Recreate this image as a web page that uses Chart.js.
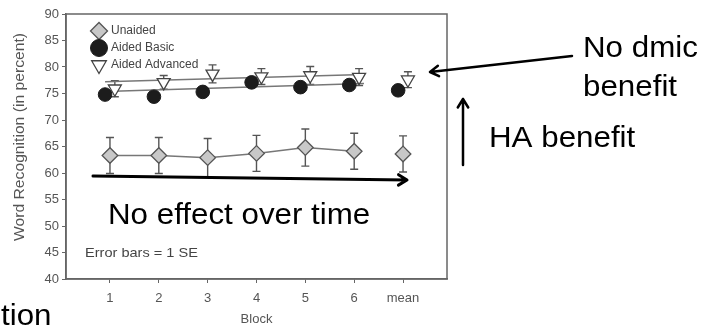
<!DOCTYPE html>
<html>
<head>
<meta charset="utf-8">
<script src="https://cdn.jsdelivr.net/npm/chart.js@4.4.0/dist/chart.umd.min.js"></script>
<style>
  html, body { margin: 0; padding: 0; background: #fff; }
  #wrap { position: relative; width: 704px; height: 327px; }
</style>
</head>
<body>
<div id="wrap"><canvas id="myChart" width="704" height="327"></canvas></div>
<script>
// block positions + labels
var blocks = [1, 2, 3, 4, 5, 6, 7];
var xLabels = ['1', '2', '3', '4', '5', '6', 'mean'];

// word recognition scores
var unaided = [63.3, 63.3, 62.9, 63.7, 64.8, 64.1, 63.6];
var unaidedSE = [3.4, 3.4, 3.6, 3.4, 3.5, 3.4, 3.4];
var aidedBasic = [74.8, 74.4, 75.3, 77.1, 76.2, 76.6, 75.6];
var aidedAdvanced = [75.9, 77.1, 78.7, 78.2, 78.4, 78.1, 77.6];
var aidedAdvancedSE = [1.5, 1.3, 1.7, 1.5, 1.7, 1.6, 1.5];

// straight trend lines through the aided blocks
var trendX = [0.9, 6.2];
var basicTrend = [75.4, 76.9];
var advancedTrend = [77.2, 78.6];

var FONT = "'Liberation Sans', Arial, sans-serif";
var SHIFT = 0.1; // small sideways nudge so aided markers don't sit on top of each other

function pts(xs, ys, dx) {
    return ys.map(function (v, i) { return { x: xs[i] + (dx || 0), y: v }; });
}

var errorBars = {
    id: 'errorBars',
    beforeDatasetsDraw: function (chart) {
        var ctx = chart.ctx;
        var yScale = chart.scales.y;
        chart.data.datasets.forEach(function (ds, di) {
            if (!ds.se) return;
            var meta = chart.getDatasetMeta(di);
            ctx.save();
            ctx.strokeStyle = '#555';
            ctx.lineWidth = 1.4;
            meta.data.forEach(function (p, i) {
                var v = ds.data[i].y;
                var top = yScale.getPixelForValue(v + ds.se[i]);
                var bot = yScale.getPixelForValue(v - ds.se[i]);
                ctx.beginPath();
                ctx.moveTo(p.x, top); ctx.lineTo(p.x, bot);
                ctx.moveTo(p.x - 4, top); ctx.lineTo(p.x + 4, top);
                ctx.moveTo(p.x - 4, bot); ctx.lineTo(p.x + 4, bot);
                ctx.stroke();
            });
            ctx.restore();
        });
    }
};

// legend sits inside the plot, a bit in from the corner
var legendNudge = {
    id: 'legendNudge',
    afterLayout: function (chart) {
        if (!chart.legend) return;
        chart.legend.left += 22;
        chart.legend.top += 20;
    }
};

function arrow(ctx, x1, y1, x2, y2, w) {
    var a = Math.atan2(y2 - y1, x2 - x1);
    var h = 10;
    ctx.lineWidth = w;
    ctx.beginPath();
    ctx.moveTo(x1, y1); ctx.lineTo(x2, y2);
    ctx.moveTo(x2 - h * Math.cos(a - 0.55), y2 - h * Math.sin(a - 0.55));
    ctx.lineTo(x2, y2);
    ctx.lineTo(x2 - h * Math.cos(a + 0.55), y2 - h * Math.sin(a + 0.55));
    ctx.stroke();
}

function wideText(ctx, s, x, y, k) {
    ctx.save();
    ctx.translate(x, y);
    ctx.scale(k || 1.08, 1);
    ctx.fillText(s, 0, 0);
    ctx.restore();
}

var boxAndNotes = {
    id: 'boxAndNotes',
    afterDraw: function (chart) {
        var ctx = chart.ctx;
        var a = chart.chartArea;
        ctx.save();
        ctx.strokeStyle = '#666';
        ctx.lineWidth = 1.5;
        ctx.strokeRect(a.left, a.top, a.right - a.left, a.bottom - a.top);

        // y axis title, stretched a little along its length like the scan
        ctx.save();
        ctx.translate(20, 137);
        ctx.rotate(-Math.PI / 2);
        ctx.scale(1.12, 1);
        ctx.fillStyle = '#555';
        ctx.font = '14px ' + FONT;
        ctx.textAlign = 'center';
        ctx.textBaseline = 'middle';
        ctx.fillText('Word Recognition (in percent)', 0, 0);
        ctx.restore();

        ctx.fillStyle = '#444';
        ctx.font = '13px ' + FONT;
        ctx.textBaseline = 'alphabetic';
        wideText(ctx, 'Error bars = 1 SE', 85, 257, 1.12);

        ctx.fillStyle = '#000';
        ctx.strokeStyle = '#000';
        ctx.lineCap = 'round';
        ctx.lineJoin = 'round';
        ctx.font = '29px ' + FONT;
        wideText(ctx, 'No effect over time', 108, 224);
        wideText(ctx, 'No dmic', 583, 57);
        wideText(ctx, 'benefit', 583, 96);
        wideText(ctx, 'HA benefit', 489, 147);
        wideText(ctx, 'tion', 1, 325);

        arrow(ctx, 93, 176, 407, 180, 3);
        arrow(ctx, 572, 56, 430, 72, 2.5);
        arrow(ctx, 463, 165, 463, 99, 2.5);
        ctx.restore();
    }
};

function createChart() {
    var ctx = document.getElementById('myChart').getContext('2d');
    var myChart = new Chart(ctx, {
        type: 'scatter',
        data: {
            datasets: [
                {
                    label: 'Aided Advanced',
                    data: pts(blocks, aidedAdvanced, SHIFT),
                    se: aidedAdvancedSE,
                    pointStyle: 'triangle',
                    rotation: 180,
                    pointRadius: 7.5,
                    backgroundColor: '#fff',
                    borderColor: '#444',
                    borderWidth: 1.3
                },
                {
                    label: 'Aided Basic',
                    data: pts(blocks, aidedBasic, -SHIFT),
                    pointStyle: 'circle',
                    pointRadius: 6.8,
                    backgroundColor: '#1c1c1c',
                    borderColor: '#1c1c1c',
                    borderWidth: 1
                },
                {
                    label: 'Unaided',
                    data: pts(blocks, unaided),
                    se: unaidedSE,
                    showLine: true,
                    pointStyle: 'rectRot',
                    pointRadius: 7.8,
                    backgroundColor: '#c8c8c8',
                    borderColor: '#555',
                    borderWidth: 1.3,
                    segment: {
                        borderColor: function (c) { return c.p1DataIndex === 6 ? 'rgba(0,0,0,0)' : '#777'; },
                        borderWidth: 1.5
                    }
                },
                {
                    label: 'basic trend',
                    data: pts(trendX, basicTrend),
                    showLine: true,
                    pointRadius: 0,
                    borderColor: '#777',
                    borderWidth: 1.5
                },
                {
                    label: 'advanced trend',
                    data: pts(trendX, advancedTrend),
                    showLine: true,
                    pointRadius: 0,
                    borderColor: '#777',
                    borderWidth: 1.5
                }
            ]
        },
        options: {
            responsive: false,
            animation: false,
            layout: { padding: { top: 14, right: 257, bottom: 0, left: 0 } },
            plugins: {
                tooltip: { enabled: false },
                legend: {
                    position: 'chartArea',
                    align: 'start',
                    labels: {
                        usePointStyle: true,
                        color: '#444',
                        font: { family: FONT, size: 12 },
                        padding: 5,
                        filter: function (item) { return item.datasetIndex < 3; },
                        sort: function (a, b) { return b.datasetIndex - a.datasetIndex; }
                    }
                }
            },
            scales: {
                x: {
                    type: 'linear',
                    min: 0.1,
                    max: 7.9,
                    afterFit: function (s) { s.height = 48; },
                    afterBuildTicks: function (s) {
                        s.ticks = blocks.map(function (b) { return { value: b }; });
                    },
                    ticks: {
                        color: '#555',
                        font: { family: FONT, size: 13 },
                        padding: 8,
                        callback: function (v) { return xLabels[v - 1]; }
                    },
                    grid: { drawOnChartArea: false, tickLength: 4, color: '#666' },
                    border: { color: '#666', width: 1.5 },
                    title: {
                        display: true,
                        text: 'Block',
                        color: '#555',
                        font: { family: FONT, size: 13 },
                        padding: { top: 2, bottom: 0 }
                    }
                },
                y: {
                    min: 40,
                    max: 90,
                    afterFit: function (s) { s.width = 66; },
                    ticks: {
                        stepSize: 5,
                        color: '#555',
                        font: { family: FONT, size: 13 },
                        padding: 3
                    },
                    grid: { drawOnChartArea: false, tickLength: 4, color: '#666' },
                    border: { color: '#666', width: 1.5 }
                }
            }
        },
        plugins: [legendNudge, errorBars, boxAndNotes]
    });
}

createChart();
</script>
</body>
</html>
